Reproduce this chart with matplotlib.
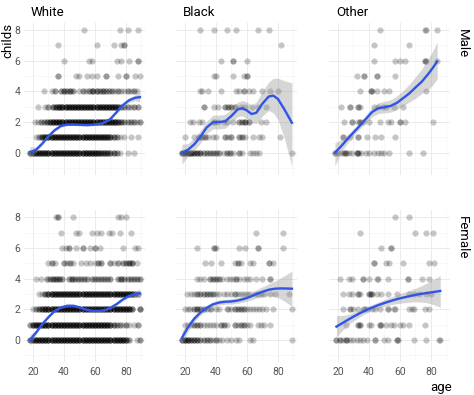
import matplotlib
matplotlib.use("Agg")
import matplotlib.pyplot as plt
import numpy as np

plt.rcParams["font.family"] = ["Roboto", "DejaVu Sans"]

# points: one list per number of children (0..8), entries are (age, how many)
white_male = [
    [(18, 3), (20, 4), (22, 5), (24, 5), (26, 5), (28, 5), (30, 5), (32, 5), (34, 5), (36, 5), (38, 5),
     (40, 5), (42, 5), (44, 5), (46, 5), (48, 5), (50, 5), (52, 5), (54, 5), (56, 5), (58, 5), (60, 5),
     (62, 5), (64, 4), (66, 4), (68, 4), (70, 3), (72, 3), (74, 2), (76, 1), (81, 1), (85, 1)],
    [(22, 1), (24, 2), (26, 4), (28, 5), (30, 5), (32, 5), (34, 5), (36, 5), (38, 5), (40, 5), (42, 5),
     (44, 5), (46, 5), (48, 5), (50, 5), (52, 5), (54, 5), (56, 5), (58, 5), (60, 5), (62, 5), (64, 5),
     (66, 5), (68, 5), (70, 4), (72, 3), (74, 2), (76, 1), (79, 1), (83, 1), (88, 1)],
    [(21, 1), (23, 1), (25, 2), (27, 2), (29, 3), (31, 4), (33, 5), (35, 5), (37, 5), (39, 5), (41, 5),
     (43, 5), (45, 5), (47, 5), (49, 5), (51, 5), (53, 5), (55, 5), (57, 5), (59, 5), (61, 5), (63, 5),
     (65, 5), (67, 5), (69, 5), (71, 5), (73, 5), (75, 4), (77, 3), (79, 2), (81, 2), (83, 2), (85, 2),
     (87, 1), (89, 2)],
    [(23, 1), (28, 1), (30, 2), (33, 3), (35, 4), (37, 5), (39, 5), (41, 5), (43, 5), (45, 5), (47, 5),
     (49, 5), (51, 5), (53, 5), (55, 5), (57, 5), (59, 5), (61, 5), (63, 5), (65, 5), (67, 5), (69, 5),
     (71, 5), (73, 5), (75, 4), (77, 2), (79, 2), (81, 2), (83, 1), (85, 2), (88, 2)],
    [(27, 1), (32, 1), (34, 2), (38, 2), (40, 3), (42, 2), (44, 3), (46, 2), (50, 1), (52, 2), (54, 1),
     (56, 2), (58, 2), (59, 2), (61, 3), (63, 2), (65, 3), (67, 2), (69, 2), (71, 2), (73, 1), (75, 2),
     (77, 1), (79, 1), (81, 2), (83, 1), (85, 2), (87, 1)],
    [(36, 2), (48, 1), (50, 1), (55, 1), (58, 1), (61, 1), (67, 2), (75, 1), (80, 2), (86, 1), (89, 1)],
    [(40, 1), (56, 1), (58, 1), (74, 1), (77, 1), (82, 1), (88, 2)],
    [(36, 1), (61, 1), (72, 1), (77, 1), (79, 2)],
    [(53, 1), (76, 1), (81, 1), (88, 1)],
]

white_female = [
    [(18, 3), (20, 4), (22, 5), (24, 5), (26, 5), (28, 5), (30, 5), (32, 5), (34, 5), (36, 5), (38, 5),
     (40, 5), (42, 5), (44, 5), (46, 5), (48, 5), (50, 5), (52, 5), (54, 5), (56, 5), (58, 5), (60, 5),
     (62, 5), (64, 5), (66, 5), (68, 5), (70, 5), (72, 5), (74, 5), (76, 5), (78, 5), (80, 4), (82, 2),
     (87, 1), (89, 2)],
    [(18, 2), (20, 4), (22, 5), (24, 5), (26, 5), (28, 5), (30, 5), (32, 5), (34, 5), (36, 5), (38, 5),
     (40, 5), (42, 5), (44, 5), (46, 5), (48, 5), (50, 5), (52, 5), (54, 5), (56, 5), (58, 5), (60, 5),
     (62, 5), (64, 5), (66, 5), (68, 5), (70, 4), (72, 3), (74, 2), (76, 2), (78, 1), (80, 2), (82, 1),
     (85, 1), (88, 2)],
    [(20, 1), (22, 2), (24, 3), (26, 4), (28, 5), (30, 5), (32, 5), (34, 5), (36, 5), (38, 5), (40, 5),
     (42, 5), (44, 5), (46, 5), (48, 5), (50, 5), (52, 5), (54, 5), (56, 5), (58, 5), (60, 5), (62, 5),
     (64, 5), (66, 5), (68, 5), (70, 5), (72, 5), (74, 5), (76, 5), (78, 5), (80, 5), (82, 5), (84, 3),
     (89, 3)],
    [(24, 1), (26, 1), (28, 3), (30, 4), (32, 5), (34, 5), (36, 5), (38, 5), (40, 5), (42, 5), (44, 5),
     (46, 5), (48, 5), (50, 5), (52, 5), (54, 5), (56, 5), (58, 5), (60, 5), (62, 5), (64, 5), (66, 5),
     (68, 5), (70, 5), (72, 5), (74, 5), (76, 5), (78, 5), (80, 5), (82, 5), (84, 5), (86, 3), (88, 2)],
    [(22, 1), (25, 1), (29, 2), (31, 2), (33, 3), (35, 3), (37, 3), (39, 2), (43, 2), (45, 3), (47, 2),
     (49, 2), (51, 2), (53, 2), (55, 2), (58, 2), (60, 2), (62, 2), (64, 2), (66, 2), (68, 2), (70, 2),
     (75, 2), (77, 3), (79, 2), (81, 2), (83, 2), (85, 2), (87, 2), (89, 2)],
    [(30, 1), (32, 2), (34, 1), (40, 2), (42, 1), (44, 2), (46, 1), (51, 1), (54, 1), (57, 1), (60, 1),
     (62, 2), (64, 2), (70, 2), (72, 1), (75, 2), (78, 2), (80, 2), (82, 3), (84, 3), (87, 1)],
    [(39, 1), (41, 1), (43, 2), (48, 1), (52, 2), (57, 1), (60, 2), (63, 1), (78, 1), (86, 1), (88, 1)],
    [(38, 1), (48, 1), (50, 1), (58, 1), (61, 1), (64, 1), (69, 1), (71, 1), (76, 1), (83, 1)],
    [(35, 1), (36, 2), (46, 1), (75, 1), (77, 1), (80, 1)],
]

black_male = [
    [(18, 3), (20, 4), (22, 4), (24, 4), (26, 3), (28, 3), (30, 3), (32, 2), (34, 2), (36, 2), (38, 2),
     (40, 2), (42, 2), (45, 1), (47, 2), (49, 2), (51, 1), (55, 2), (57, 1), (62, 1), (64, 1), (66, 1),
     (68, 1), (89, 1)],
    [(20, 1), (26, 1), (29, 2), (31, 2), (33, 2), (35, 1), (38, 1), (40, 1), (46, 2), (48, 1), (50, 2),
     (55, 2), (57, 2), (59, 1), (64, 1), (68, 1), (70, 1), (81, 1)],
    [(23, 1), (25, 1), (29, 1), (31, 1), (39, 2), (41, 1), (45, 1), (47, 1), (51, 1), (55, 2), (57, 2),
     (59, 3), (61, 2), (69, 1), (72, 1)],
    [(32, 2), (39, 1), (41, 1), (46, 2), (48, 2), (50, 2), (52, 2), (56, 1), (59, 1), (63, 1), (67, 1),
     (72, 1)],
    [(30, 1), (31, 1), (35, 1), (43, 1), (53, 1), (55, 1), (58, 2), (61, 1), (64, 1), (70, 1), (75, 1),
     (80, 1)],
    [(39, 1), (40, 1), (51, 1), (58, 1), (60, 2)],
    [(43, 1), (51, 2), (60, 1)],
    [(82, 1)],
    [(30, 1), (39, 1), (47, 1), (53, 1), (67, 1), (74, 1)],
]

black_female = [
    [(18, 3), (20, 4), (22, 4), (24, 3), (26, 3), (28, 3), (30, 2), (32, 2), (34, 2), (36, 2), (38, 1),
     (40, 2), (42, 1), (44, 1), (47, 1), (50, 1), (53, 1), (55, 1), (62, 1), (64, 1), (89, 1)],
    [(20, 1), (22, 1), (24, 1), (26, 2), (28, 2), (30, 2), (32, 1), (34, 1), (36, 1), (38, 1), (40, 1),
     (43, 2), (45, 2), (47, 1), (52, 2), (54, 1), (56, 2), (58, 2), (60, 1), (62, 1), (67, 1), (69, 1),
     (71, 1), (75, 1)],
    [(20, 1), (22, 1), (23, 1), (26, 2), (28, 3), (30, 2), (32, 2), (34, 1), (36, 1), (37, 1), (40, 1),
     (42, 1), (47, 1), (48, 1), (50, 1), (52, 2), (54, 2), (56, 2), (58, 2), (60, 1), (62, 1), (64, 1),
     (66, 1), (68, 1), (70, 1), (72, 1), (77, 1), (89, 1)],
    [(21, 1), (24, 1), (26, 1), (28, 2), (30, 2), (32, 2), (34, 2), (36, 2), (38, 2), (40, 1), (42, 1),
     (45, 1), (47, 1), (50, 1), (52, 2), (54, 1), (56, 1), (58, 1), (60, 1), (62, 1), (65, 1), (67, 1),
     (69, 1), (71, 1), (75, 1), (78, 1), (87, 1)],
    [(28, 1), (30, 1), (32, 1), (36, 2), (38, 2), (40, 2), (42, 2), (44, 1), (47, 1), (49, 1), (51, 1),
     (53, 2), (55, 1), (58, 1), (60, 1), (62, 1), (66, 1), (70, 1), (75, 2)],
    [(33, 1), (37, 1), (43, 1), (52, 1), (54, 2), (56, 1), (62, 1), (64, 1), (74, 2), (77, 1)],
    [(28, 1), (39, 2), (40, 1), (55, 1), (59, 1), (67, 2), (83, 1)],
    [(66, 1), (83, 1)],
    [],
]

other_male = [
    [(18, 2), (20, 1), (22, 1), (24, 2), (25, 2), (27, 1), (29, 1), (32, 2), (33, 2), (35, 1), (38, 1),
     (40, 1), (43, 1), (46, 1), (48, 1), (50, 1), (53, 1), (66, 1), (75, 1)],
    [(23, 2), (28, 1), (33, 2), (39, 1), (44, 1), (48, 1), (57, 1)],
    [(24, 1), (29, 2), (33, 1), (34, 2), (36, 1), (40, 1), (47, 1), (52, 1), (54, 1), (60, 2), (63, 1),
     (81, 1)],
    [(22, 1), (28, 2), (33, 2), (34, 1), (43, 1), (46, 1), (49, 1), (51, 1), (56, 1), (62, 1)],
    [(34, 1), (41, 2), (42, 1), (45, 1), (50, 1), (53, 1), (77, 1)],
    [(32, 1), (37, 2), (45, 2), (57, 1)],
    [(43, 1), (57, 1), (60, 1), (63, 1), (76, 2), (77, 1), (84, 1)],
    [(43, 1), (66, 1)],
    [(47, 1), (76, 1), (77, 1), (84, 1)],
]

other_female = [
    [(19, 2), (21, 2), (23, 1), (25, 2), (26, 1), (28, 1), (30, 1), (32, 1), (34, 1), (36, 1), (39, 1),
     (44, 2), (50, 1), (52, 1), (58, 2), (59, 1), (69, 1), (77, 1), (85, 1), (86, 1)],
    [(25, 1), (33, 2), (34, 2), (40, 1), (41, 1), (47, 2), (48, 1), (51, 1), (54, 1), (56, 1), (60, 1),
     (62, 1), (66, 1), (76, 1)],
    [(23, 1), (28, 2), (30, 1), (33, 1), (37, 2), (39, 1), (42, 1), (44, 1), (47, 1), (52, 2), (56, 1),
     (57, 1), (66, 1), (68, 1), (69, 1), (76, 1), (79, 1)],
    [(23, 1), (27, 1), (29, 1), (33, 2), (34, 1), (40, 2), (41, 2), (42, 1), (45, 1), (48, 1), (52, 1),
     (58, 1), (66, 1), (69, 1), (72, 1), (77, 1), (80, 1)],
    [(21, 1), (27, 1), (29, 1), (36, 2), (40, 1), (45, 1), (46, 1), (52, 1), (65, 2), (74, 1), (79, 1)],
    [(43, 2), (51, 1), (53, 1), (62, 1), (79, 1), (82, 1)],
    [(48, 1), (54, 2)],
    [(34, 1), (70, 1), (77, 1), (81, 1)],
    [(57, 1), (66, 1)],
]

# loess fits: age, fit, lower and upper band
wm_age = [18, 22, 26, 30, 34, 38, 42, 46, 50, 55, 60, 65, 70, 74, 78, 82, 86, 89]
wm_fit = [0.02, 0.2, 0.6, 1.08, 1.47, 1.74, 1.83, 1.84, 1.82, 1.8, 1.84, 1.93, 2.2, 2.65, 3.1, 3.42, 3.58, 3.62]
wm_lo = [-0.36, 0.04, 0.5, 1.0, 1.39, 1.67, 1.76, 1.77, 1.75, 1.73, 1.77, 1.86, 2.12, 2.55, 2.98, 3.28, 3.38, 3.32]
wm_hi = [0.4, 0.36, 0.7, 1.16, 1.55, 1.81, 1.9, 1.91, 1.89, 1.87, 1.91, 2.0, 2.28, 2.75, 3.22, 3.56, 3.78, 3.92]

wf_age = [18, 22, 26, 30, 34, 38, 42, 46, 50, 54, 58, 62, 66, 70, 74, 78, 82, 86, 89]
wf_fit = [0.0, 0.5, 1.05, 1.5, 1.9, 2.13, 2.24, 2.24, 2.14, 2.0, 1.92, 1.9, 1.95, 2.1, 2.35, 2.65, 2.88, 3.0, 3.05]
wf_lo = [-0.35, 0.36, 0.96, 1.43, 1.83, 2.06, 2.17, 2.17, 2.07, 1.93, 1.85, 1.83, 1.88, 2.03, 2.27, 2.56, 2.77, 2.84, 2.75]
wf_hi = [0.35, 0.64, 1.14, 1.57, 1.97, 2.2, 2.31, 2.31, 2.21, 2.07, 1.99, 1.97, 2.02, 2.17, 2.43, 2.74, 2.99, 3.16, 3.35]

bm_age = [18, 22, 26, 30, 34, 38, 42, 46, 50, 54, 57, 60, 63, 66, 70, 74, 77, 80, 84, 89]
bm_fit = [0.0, 0.2, 0.55, 1.05, 1.65, 1.98, 2.0, 2.05, 2.4, 2.82, 2.9, 2.75, 2.52, 2.6, 3.2, 3.66, 3.72, 3.5, 2.85, 1.95]
bm_lo = [-0.75, -0.2, 0.15, 0.65, 1.25, 1.55, 1.55, 1.6, 1.95, 2.35, 2.4, 2.2, 1.95, 1.9, 2.4, 2.75, 2.6, 2.15, 1.0, -0.9]
bm_hi = [0.55, 0.6, 0.95, 1.45, 2.05, 2.45, 2.45, 2.5, 2.85, 3.3, 3.4, 3.3, 3.1, 3.3, 4.0, 4.6, 4.85, 4.85, 4.7, 4.55]

bf_age = [18, 22, 26, 30, 34, 38, 42, 46, 50, 54, 58, 62, 66, 70, 74, 78, 82, 86, 89]
bf_fit = [0.15, 0.85, 1.4, 1.8, 2.1, 2.33, 2.45, 2.5, 2.52, 2.58, 2.68, 2.82, 3.0, 3.15, 3.28, 3.35, 3.37, 3.36, 3.35]
bf_lo = [-0.3, 0.57, 1.2, 1.63, 1.94, 2.17, 2.29, 2.34, 2.35, 2.4, 2.48, 2.6, 2.73, 2.83, 2.9, 2.85, 2.67, 2.41, 2.2]
bf_hi = [0.6, 1.13, 1.6, 1.97, 2.26, 2.49, 2.61, 2.66, 2.69, 2.76, 2.88, 3.04, 3.27, 3.47, 3.66, 3.85, 4.07, 4.31, 4.5]

om_age = [18, 22, 26, 30, 34, 38, 42, 46, 50, 54, 58, 62, 66, 70, 74, 78, 81, 84]
om_fit = [0.0, 0.42, 0.88, 1.32, 1.75, 2.2, 2.65, 2.9, 2.97, 3.05, 3.25, 3.55, 3.86, 4.25, 4.62, 5.1, 5.5, 5.95]
om_lo = [-0.85, 0.0, 0.6, 1.1, 1.55, 1.95, 2.35, 2.55, 2.6, 2.65, 2.8, 3.05, 3.3, 3.55, 3.85, 4.1, 4.4, 4.8]
om_hi = [0.65, 0.85, 1.15, 1.55, 1.95, 2.45, 2.95, 3.25, 3.35, 3.45, 3.7, 4.05, 4.45, 4.95, 5.45, 6.1, 6.6, 7.2]

of_age = [19, 22, 26, 30, 34, 38, 42, 46, 50, 54, 58, 62, 66, 70, 74, 78, 82, 86]
of_fit = [0.88, 1.06, 1.3, 1.53, 1.75, 1.95, 2.12, 2.28, 2.42, 2.55, 2.67, 2.77, 2.86, 2.95, 3.02, 3.08, 3.14, 3.2]
of_lo = [0.2, 0.55, 0.95, 1.25, 1.52, 1.75, 1.92, 2.08, 2.2, 2.3, 2.38, 2.43, 2.47, 2.5, 2.48, 2.42, 2.3, 2.15]
of_hi = [1.6, 1.6, 1.65, 1.8, 1.98, 2.15, 2.32, 2.48, 2.65, 2.8, 2.95, 3.1, 3.23, 3.38, 3.55, 3.75, 3.98, 4.2]

races = ["White", "Black", "Other"]
sexes = ["Male", "Female"]
x_ticks = [20, 40, 60, 80]
y_ticks = [0, 2, 4, 6, 8]


def expand(rows):
    ages, kids = [], []
    for k, row in enumerate(rows):
        for a, n in row:
            ages += [a] * n
            kids += [k] * n
    return ages, kids


panels = {
    (0, 0): (white_male, wm_age, wm_fit, wm_lo, wm_hi),
    (0, 1): (black_male, bm_age, bm_fit, bm_lo, bm_hi),
    (0, 2): (other_male, om_age, om_fit, om_lo, om_hi),
    (1, 0): (white_female, wf_age, wf_fit, wf_lo, wf_hi),
    (1, 1): (black_female, bf_age, bf_fit, bf_lo, bf_hi),
    (1, 2): (other_female, of_age, of_fit, of_lo, of_hi),
}

W, H = 474, 395
fig = plt.figure(figsize=(W / 100, H / 100), dpi=100)

lefts = [24.4, 176.4, 329.4]
tops = [23, 210.4]
pw, ph = 121, 152

for (r, c), (pts, fa, ff, flo, fhi) in panels.items():
    ax = fig.add_axes([lefts[c] / W, 1 - (tops[r] + ph) / H, pw / W, ph / H])
    ax.set_xlim(14.45, 92.55)
    ax.set_ylim(-1.45, 8.45)
    for s in ax.spines.values():
        s.set_visible(False)
    ax.set_xticks(x_ticks)
    ax.set_xticks([30, 50, 70, 90], minor=True)
    ax.set_yticks(y_ticks)
    ax.set_yticks([-1, 1, 3, 5, 7], minor=True)
    ax.grid(which="major", color="#ebebeb", linewidth=0.7)
    ax.grid(which="minor", color="#f3f3f3", linewidth=0.4)
    ax.set_axisbelow(True)
    ax.tick_params(which="both", length=0, labelsize=7.5, labelcolor="#555555", pad=3)
    if c != 0:
        ax.set_yticklabels([])
    if r != 1:
        ax.set_xticklabels([])

    ages, kids = expand(pts)
    ax.scatter(ages, kids, s=20, color="black", alpha=0.22, linewidths=0, zorder=2)
    ax.fill_between(fa, flo, fhi, color="#999999", alpha=0.4, linewidth=0, zorder=3)
    ax.plot(fa, ff, color="#2f55e8", linewidth=1.7, zorder=4)

for c, name in enumerate(races):
    fig.text((lefts[c] + 6.5) / W, 1 - 12.7 / H, name, ha="left", va="center", fontsize=9.5)

for r, name in enumerate(sexes):
    fig.text(462 / W, 1 - (tops[r] + 6) / H, name, ha="center", va="top", rotation=-90, fontsize=9.5)

fig.text(8 / W, 1 - 23 / H, "childs", ha="center", va="top", rotation=90, fontsize=9.5)
fig.text(452 / W, 1 - 387 / H, "age", ha="right", va="center", fontsize=9.5)

fig.savefig("out.png", dpi=100)
